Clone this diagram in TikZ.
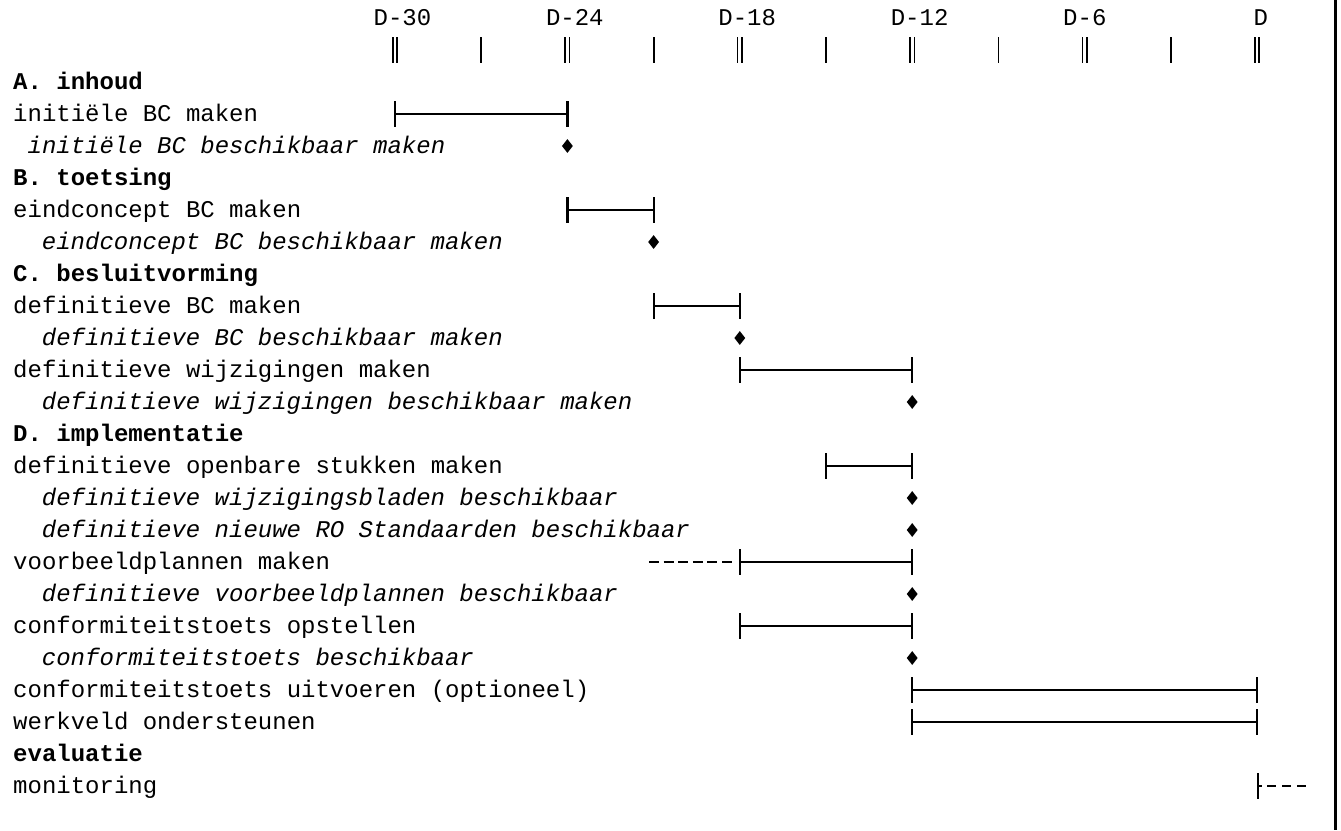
\documentclass[tikz,border=0pt]{standalone}
\usepackage{fontspec}
\usetikzlibrary{shapes.geometric}
\newfontfamily\gmono{Liberation Mono}
\newcommand\gbar[4]{% name, line y, x start, x end
  \coordinate (#1s) at (#3,#2);
  \coordinate (#1e) at (#4,#2);
  \draw[barline] (#1s) -- (#1e);
  \draw[barcap] ([yshift=13pt]#1s) -- ([yshift=-13pt]#1s);
  \draw[barcap] ([yshift=13pt]#1e) -- ([yshift=-13pt]#1e);
}
\newcommand\gtick[2]{% name, x
  \coordinate (#1) at (#2,50);
  \draw[tickline] ([yshift=13pt]#1) -- ([yshift=-13pt]#1);
}
\newcommand\gdtick[2]{% name, x
  \coordinate (#1) at (#2,50);
  \draw[dtickline] ([xshift=-2.2pt,yshift=13pt]#1) -- ([xshift=-2.2pt,yshift=-13pt]#1);
  \draw[dtickline] ([xshift=2.2pt,yshift=13pt]#1) -- ([xshift=2.2pt,yshift=-13pt]#1);
}
\begin{document}
\begin{tikzpicture}[x=1pt,y=-1pt,
  lbl/.style={font=\gmono\fontsize{24}{28}\selectfont, inner sep=0pt, anchor=base west, text=black},
  hdr/.style={lbl, font=\gmono\bfseries\fontsize{24}{28}\selectfont},
  mil/.style={lbl, font=\gmono\itshape\fontsize{24}{28}\selectfont},
  barline/.style={line width=1.5pt},
  barcap/.style={line width=2.2pt},
  tickline/.style={line width=1.8pt},
  dtickline/.style={line width=1.6pt},
  ms/.style={diamond, fill=black, draw=none, inner sep=0pt, minimum width=11pt, minimum height=14pt},
  dashbar/.style={line width=1.5pt, dash pattern=on 10pt off 4.6pt}
]
\useasboundingbox (0,0) rectangle (1341,830);
\fill[white] (0,0) rectangle (1341,830);
\draw[line width=3pt] (1335.5,0) -- (1335.5,830);

% month labels
\node[lbl] (h30) at (373.4,25) {D-30};
\node[lbl] (h24) at (545.8,25) {D-24};
\node[lbl] (h18) at (718.2,25) {D-18};
\node[lbl] (h12) at (890.6,25) {D-12};
\node[lbl] (h6) at (1063,25) {D-6};
\node[lbl] (h0) at (1253.5,25) {D};

% ticks
\gdtick{t0}{395}
\gtick{t1}{481.2}
\gdtick{t2}{567.4}
\gtick{t3}{653.6}
\gdtick{t4}{739.8}
\gtick{t5}{826}
\gdtick{t6}{912.2}
\gtick{t7}{998.4}
\gdtick{t8}{1084.6}
\gtick{t9}{1170.8}
\gdtick{t10}{1257}

% rows
\node[hdr] (r2) at (13,89) {A. inhoud};
\node[lbl] (r3) at (13,121) {initiële BC maken};
\gbar{b3}{114}{395}{567.4}
\node[mil] (r4) at (27.4,153) {initiële BC beschikbaar maken};
\node[ms] (m4) at (567.4,146) {};

\node[hdr] (r5) at (13,185) {B. toetsing};
\node[lbl] (r6) at (13,217) {eindconcept BC maken};
\gbar{b6}{210}{567.4}{653.6}
\node[mil] (r7) at (41.7,249) {eindconcept BC beschikbaar maken};
\node[ms] (m7) at (653.6,242) {};

\node[hdr] (r8) at (13,281) {C. besluitvorming};
\node[lbl] (r9) at (13,313) {definitieve BC maken};
\gbar{b9}{306}{653.6}{739.8}
\node[mil] (r10) at (41.7,345) {definitieve BC beschikbaar maken};
\node[ms] (m10) at (739.8,338) {};
\node[lbl] (r11) at (13,377) {definitieve wijzigingen maken};
\gbar{b11}{370}{739.8}{912.2}
\node[mil] (r12) at (41.7,409) {definitieve wijzigingen beschikbaar maken};
\node[ms] (m12) at (912.2,402) {};

\node[hdr] (r13) at (13,441) {D. implementatie};
\node[lbl] (r14) at (13,473) {definitieve openbare stukken maken};
\gbar{b14}{466}{826}{912.2}
\node[mil] (r15) at (41.7,505) {definitieve wijzigingsbladen beschikbaar};
\node[ms] (m15) at (912.2,498) {};
\node[mil] (r16) at (41.7,537) {definitieve nieuwe RO Standaarden beschikbaar};
\node[ms] (m16) at (912.2,530) {};
\node[lbl] (r17) at (13,569) {voorbeeldplannen maken};
\coordinate (d17) at (649,562);
\gbar{b17}{562}{739.8}{912.2}
\draw[dashbar] (d17) -- ([xshift=-8pt]b17s);
\node[mil] (r18) at (41.7,601) {definitieve voorbeeldplannen beschikbaar};
\node[ms] (m18) at (912.2,594) {};
\node[lbl] (r19) at (13,633) {conformiteitstoets opstellen};
\gbar{b19}{626}{739.8}{912.2}
\node[mil] (r20) at (41.7,665) {conformiteitstoets beschikbaar};
\node[ms] (m20) at (912.2,658) {};
\node[lbl] (r21) at (13,697) {conformiteitstoets uitvoeren (optioneel)};
\gbar{b21}{690}{912.2}{1257}
\node[lbl] (r22) at (13,729) {werkveld ondersteunen};
\gbar{b22}{722}{912.2}{1257}

\node[hdr] (r23) at (13,761) {evaluatie};
\node[lbl] (r24) at (13,793) {monitoring};
\coordinate (b24s) at (1258,786);
\coordinate (b24a) at (1262,786);
\coordinate (b24b) at (1267,786);
\coordinate (b24e) at (1307,786);
\draw[barcap] ([yshift=13pt]b24s) -- ([yshift=-13pt]b24s);
\draw[barline] (b24s) -- (b24a);
\draw[line width=1.5pt, dash pattern=on 9pt off 6pt] (b24b) -- (b24e);
\end{tikzpicture}
\end{document}
